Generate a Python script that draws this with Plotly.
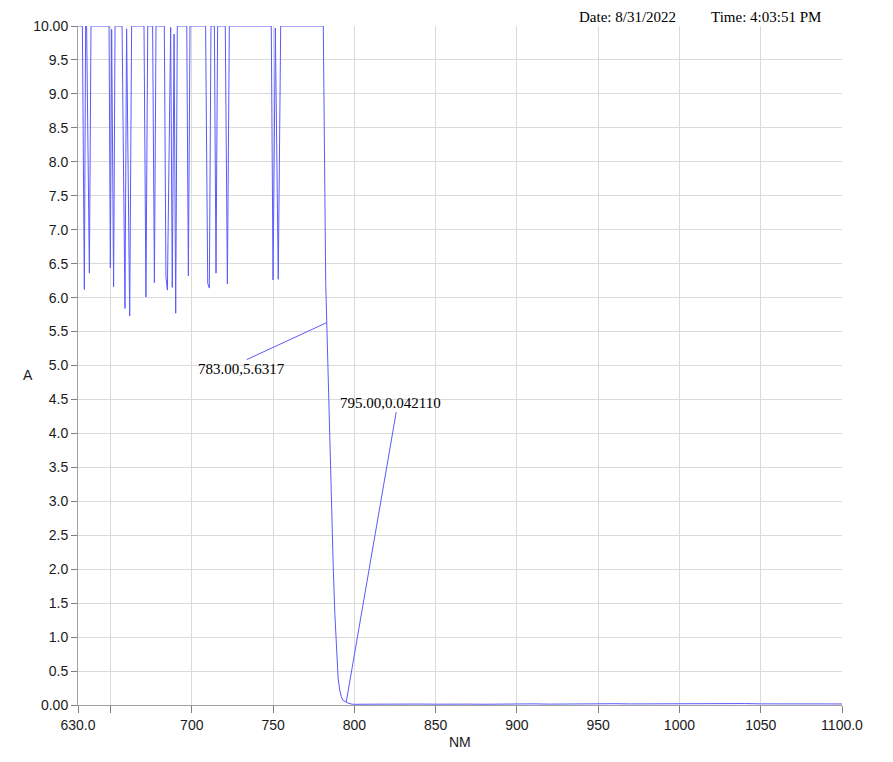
import plotly.graph_objects as go

# ---- data ----
wavelength = [630.0, 632.7, 633.9, 634.7, 635.3, 637.0, 638.0,
              649.1, 649.9, 650.7, 651.9, 652.8,
              657.1, 658.9, 659.9, 661.8, 663.0,
              670.6, 671.8, 672.9,
              675.9, 677.0, 678.0,
              683.1, 684.1, 685.0, 687.0, 688.0, 689.1, 690.1, 691.1,
              696.9, 697.9, 698.9,
              708.5, 709.8, 710.8, 711.8,
              713.9, 714.9, 715.9,
              720.6, 721.9, 723.1,
              748.9, 750.0, 751.4, 753.2, 754.7,
              780.9, 782.4, 783.0, 784.0, 785.0, 786.0, 787.0, 788.0, 789.0,
              790.0, 791.0, 792.0, 793.0, 794.0, 795.0, 796.0, 797.0, 798.0, 799.0,
              800, 810, 820, 830, 840, 850, 860, 870, 880, 890, 900,
              910, 920, 930, 940, 950, 960, 970, 980, 990, 1000,
              1010, 1020, 1030, 1040, 1050, 1060, 1070, 1080, 1090, 1100]

absorbance = [10.0, 10.0, 6.12, 10.0, 10.0, 6.36, 10.0,
              10.0, 6.44, 9.95, 6.16, 10.0,
              10.0, 5.84, 9.96, 5.73, 10.0,
              10.0, 6.01, 10.0,
              10.0, 6.22, 10.0,
              10.0, 6.30, 6.11, 9.98, 6.15, 9.88, 5.77, 10.0,
              10.0, 6.32, 10.0,
              10.0, 6.21, 6.14, 10.0,
              10.0, 6.36, 10.0,
              10.0, 6.20, 10.0,
              10.0, 6.26, 9.97, 6.27, 10.0,
              10.0, 6.21, 5.6317, 4.72, 3.76, 2.90, 2.05, 1.35, 0.75,
              0.40, 0.22, 0.12, 0.07, 0.05, 0.04211, 0.03, 0.02, 0.015, 0.012,
              0.010, 0.012, 0.015, 0.011, 0.014, 0.012, 0.016, 0.013, 0.011, 0.015, 0.014,
              0.017, 0.013, 0.016, 0.018, 0.015, 0.019, 0.016, 0.018, 0.020, 0.017,
              0.019, 0.016, 0.018, 0.021, 0.017, 0.019, 0.022, 0.018, 0.016, 0.015]

x_tickvals = [630, 650, 700, 750, 800, 850, 900, 950, 1000, 1050, 1100]
x_ticktext = ["630.0", "", "700", "750", "800", "850", "900", "950", "1000", "1050", "1100.0"]
y_tickvals = [i * 0.5 for i in range(21)]
y_ticktext = ["0.00", "0.5", "1.0", "1.5", "2.0", "2.5", "3.0", "3.5", "4.0", "4.5",
              "5.0", "5.5", "6.0", "6.5", "7.0", "7.5", "8.0", "8.5", "9.0", "9.5", "10.00"]

marker_points = [(783.00, 5.6317, "783.00,5.6317"), (795.00, 0.042110, "795.00,0.042110")]
header_date = "Date: 8/31/2022"
header_time = "Time: 4:03:51 PM"

LINE = "#5a5aff"
SANS = "Liberation Sans, Arial, sans-serif"
SERIF = "Liberation Serif, Times New Roman, serif"

fig = go.Figure()
fig.add_trace(go.Scatter(x=wavelength, y=absorbance, mode="lines",
                         line=dict(color=LINE, width=1), hoverinfo="skip"))

axis_common = dict(showgrid=True, gridcolor="#dadada", gridwidth=1,
                   showline=True, linecolor="#a0a0a0", linewidth=1,
                   ticks="outside", tickcolor="#808080",
                   tickfont=dict(family=SANS, size=14, color="#1a1a1a"),
                   zeroline=False, fixedrange=True, automargin=False)

fig.update_xaxes(range=[630, 1100], tickvals=x_tickvals, ticktext=x_ticktext,
                 ticklen=7, **axis_common)
fig.update_yaxes(range=[0, 10], tickvals=y_tickvals, ticktext=y_ticktext,
                 ticklen=6, **axis_common)

# offsets (pixels) of label centres and connector tails from each marked point
label_offsets = [(-85, -46), (44, 299)]
tail_offsets = [(-80, -37), (50, 290)]

annotations = []
shapes = []
for (px, py, txt), (dx, dy), (tx, ty) in zip(marker_points, label_offsets, tail_offsets):
    annotations.append(dict(x=px, y=py, xref="x", yref="y", text=txt, showarrow=False,
                            xshift=dx, yshift=dy, xanchor="center", yanchor="middle",
                            font=dict(family=SERIF, size=15, color="#000000")))
    shapes.append(dict(type="line", xref="x", yref="y", xsizemode="pixel", ysizemode="pixel",
                       xanchor=px, yanchor=py, x0=0, y0=0, x1=tx, y1=ty,
                       line=dict(color=LINE, width=1)))

annotations += [
    dict(x=0.7186, y=1.0133, xref="paper", yref="paper", text=header_date, showarrow=False,
         xanchor="center", yanchor="middle",
         font=dict(family=SERIF, size=15, color="#000000")),
    dict(x=0.900, y=1.0133, xref="paper", yref="paper", text=header_time, showarrow=False,
         xanchor="center", yanchor="middle",
         font=dict(family=SERIF, size=15, color="#000000")),
    dict(x=-0.0654, y=0.486, xref="paper", yref="paper", text="A", showarrow=False,
         xanchor="center", yanchor="middle",
         font=dict(family=SANS, size=14, color="#1a1a1a")),
    dict(x=0.5, y=-0.0545, xref="paper", yref="paper", text="NM", showarrow=False,
         xanchor="center", yanchor="middle",
         font=dict(family=SANS, size=14, color="#1a1a1a")),
]

# page body adds an 8px margin, so the figure is 8px smaller and margins shifted
fig.update_layout(width=885, height=754,
                  margin=dict(l=70, r=51, t=18, b=57, pad=0),
                  plot_bgcolor="white", paper_bgcolor="white",
                  showlegend=False, annotations=annotations, shapes=shapes)

fig.write_html("out.html")
